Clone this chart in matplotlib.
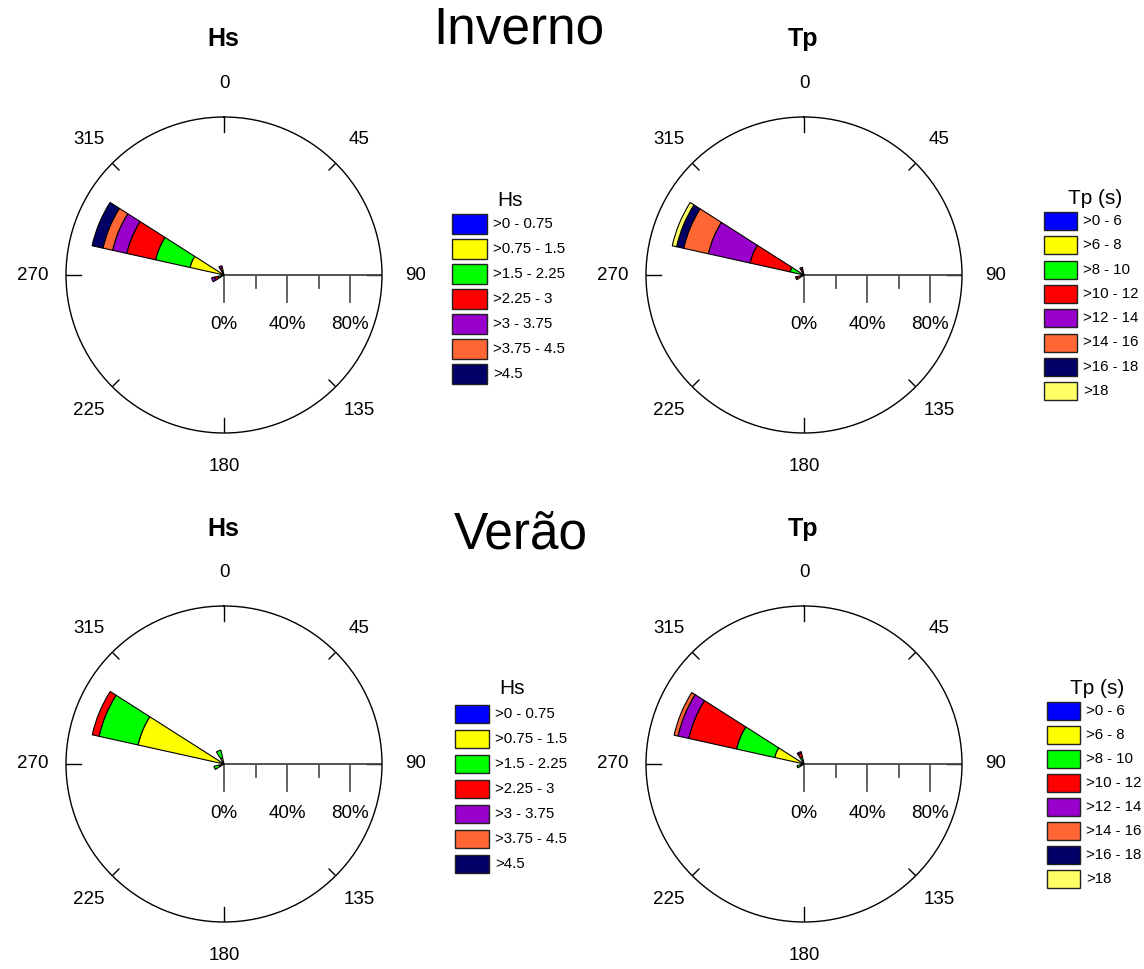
import numpy as np
import matplotlib
matplotlib.use("Agg")
import matplotlib.pyplot as plt
from matplotlib.patches import Rectangle

plt.rcParams['font.family'] = ['Liberation Sans', 'DejaVu Sans']

W, H = 1144, 969

# direction bins (degrees, clockwise from north) that carry any occurrence
dirs = [247.5, 292.5, 337.5]
sector_width = 20.0

hs_labels = ['>0 - 0.75', '>0.75 - 1.5', '>1.5 - 2.25', '>2.25 - 3',
             '>3 - 3.75', '>3.75 - 4.5', '>4.5']
hs_colors = ['#0000FF', '#FFFF00', '#00FF00', '#FF0000',
             '#9900CC', '#FF6633', '#000066']

tp_labels = ['>0 - 6', '>6 - 8', '>8 - 10', '>10 - 12',
             '>12 - 14', '>14 - 16', '>16 - 18', '>18']
tp_colors = ['#0000FF', '#FFFF00', '#00FF00', '#FF0000',
             '#9900CC', '#FF6633', '#000066', '#FFFF66']

# frequency (%) per class (rows) and direction (columns, same order as dirs)
hs_inverno = [
    [0.0, 0.0, 0.0],
    [2.0, 22.0, 1.5],
    [2.0, 22.3, 1.5],
    [2.0, 18.7, 1.5],
    [2.0, 9.2, 1.5],
    [0.0, 6.3, 0.0],
    [0.0, 7.0, 0.0],
]
tp_inverno = [
    [0.0, 0.0, 0.0],
    [0.0, 0.5, 0.0],
    [2.0, 8.5, 2.0],
    [2.5, 26.0, 2.0],
    [0.0, 27.0, 0.0],
    [1.0, 16.0, 1.0],
    [0.0, 4.6, 0.0],
    [0.0, 2.8, 0.0],
]
hs_verao = [
    [1.0, 1.0, 1.0],
    [2.0, 54.7, 3.0],
    [3.5, 25.3, 5.0],
    [0.0, 4.4, 0.0],
    [0.0, 0.0, 0.0],
    [0.0, 0.0, 0.0],
    [0.0, 0.0, 0.0],
]
tp_verao = [
    [1.0, 1.0, 1.0],
    [1.0, 18.0, 1.5],
    [2.5, 24.7, 2.0],
    [0.0, 31.0, 2.5],
    [0.0, 7.0, 1.0],
    [0.0, 2.5, 0.0],
    [0.0, 0.0, 0.0],
    [0.0, 0.0, 0.0],
]

compass = [0, 45, 90, 135, 180, 225, 270, 315]
pct_ticks = [0, 40, 80]
pct_minor = [20, 60]
rmax = 100


def fx(x):
    return x / W


def fy(y):
    return 1 - y / H


def rose(cx, cy, rad, table, colors):
    ax = fig.add_axes([fx(cx - rad), fy(cy + rad), 2 * rad / W, 2 * rad / H],
                      projection='polar')
    ax.set_theta_zero_location('N')
    ax.set_theta_direction(-1)
    ax.set_ylim(0, rmax)
    ax.grid(False)
    ax.set_xticks([])
    ax.set_yticks([])
    ax.spines['polar'].set_color('black')
    ax.spines['polar'].set_linewidth(1.0)

    theta = np.radians(dirs)
    bottom = np.zeros(len(dirs))
    for vals, col in zip(table, colors):
        vals = np.array(vals, dtype=float)
        keep = vals > 0
        if keep.any():
            ax.bar(theta[keep], vals[keep], width=np.radians(sector_width),
                   bottom=bottom[keep], color=col, edgecolor='black',
                   linewidth=0.8, zorder=3)
        bottom += vals

    # compass labels and rim ticks
    for a in compass:
        t = np.radians(a)
        inner = 90.5 if a % 90 == 0 else 94
        ax.plot([t, t], [inner, rmax], color='black', lw=1, zorder=2)
        ax.text(t, 121, str(a), ha='center', va='center', fontsize=13.5,
                clip_on=False)

    # percentage scale along the east radius, ticks hanging below it
    ax.plot([np.pi / 2, np.pi / 2], [0, rmax], color='#444444', lw=1.3,
            zorder=2)
    for v, ln in [(v, 17) for v in pct_ticks] + [(v, 8.3) for v in pct_minor]:
        xs = np.full(20, float(v))
        ys = -np.linspace(0, ln, 20)
        r = np.hypot(xs, ys)
        t = np.arctan2(xs, ys)
        ax.plot(t, r, color='#555555', lw=1.3, zorder=2)
    for v in pct_ticks:
        d = 31.5
        ax.text(np.arctan2(v, -d), np.hypot(v, d), f'{v}%', ha='center',
                va='center', fontsize=13.5, clip_on=False)
    return ax


def legend(px, ptop, step, pw, ph, tx, ty, title, labels, colors):
    fig.text(fx(tx), fy(ty), title, ha='center', va='center', fontsize=15)
    for i, (lab, col) in enumerate(zip(labels, colors)):
        y0 = ptop + i * step
        fig.add_artist(Rectangle((fx(px), fy(y0 + ph)), pw / W, ph / H,
                                 transform=fig.transFigure, facecolor=col,
                                 edgecolor='#222222', lw=1.0))
        fig.text(fx(px + pw + 6), fy(y0 + ph / 2), lab, ha='left',
                 va='center', fontsize=10.8)


fig = plt.figure(figsize=(W / 100, H / 100), dpi=100)

rose(224, 275, 158, hs_inverno, hs_colors)
rose(804, 275, 158, tp_inverno, tp_colors)
rose(224, 764, 158, hs_verao, hs_colors)
rose(804, 764, 158, tp_verao, tp_colors)

fig.text(fx(519), fy(30), 'Inverno', ha='center', va='center', fontsize=37)
fig.text(fx(521), fy(535), 'Verão', ha='center', va='center', fontsize=37)

for x, y, s in [(223, 39, 'Hs'), (803, 39, 'Tp'),
                (223, 529, 'Hs'), (803, 529, 'Tp')]:
    fig.text(fx(x), fy(y), s, ha='center', va='center', fontsize=18,
             fontweight='bold')

legend(452, 214, 25, 35, 20, 510, 200, 'Hs', hs_labels, hs_colors)
legend(1044, 212, 24.3, 33, 18, 1095, 198, 'Tp (s)', tp_labels, tp_colors)
legend(455, 705, 25, 34, 18, 512, 689, 'Hs', hs_labels, hs_colors)
legend(1047, 702, 24, 33, 18, 1097, 688, 'Tp (s)', tp_labels, tp_colors)

fig.savefig('out.png', dpi=100)
